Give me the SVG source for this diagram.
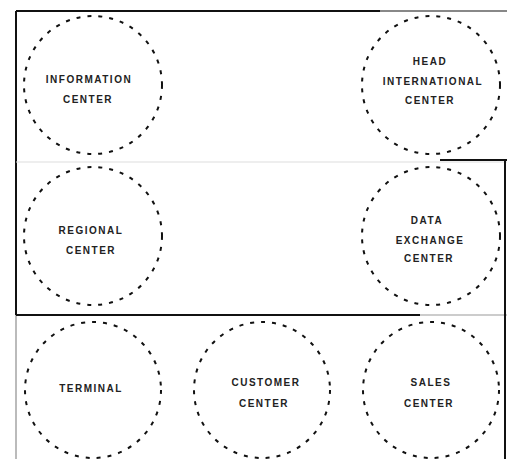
<svg xmlns="http://www.w3.org/2000/svg" width="507" height="459" viewBox="0 0 507 459">
<style>
.n circle{fill:none;stroke:#111;stroke-width:2;stroke-dasharray:4 7}
.n text{font-family:"Liberation Sans",Arial,sans-serif;font-size:10px;font-weight:bold;letter-spacing:1.5px;fill:#222;text-anchor:middle}
.f{stroke:#111;stroke-width:2;fill:none}
</style>
<rect width="507" height="459" fill="#fff"/>
<g id="frame">
<line class="f" x1="16" y1="11" x2="380" y2="11"/>
<line x1="380" y1="11" x2="507" y2="11" stroke="#888" stroke-width="2"/>
<line class="f" x1="16" y1="11" x2="16" y2="315"/>
<line x1="16" y1="315" x2="16" y2="459" stroke="#bbb" stroke-width="2"/>
<line x1="16" y1="162" x2="507" y2="162" stroke="#ddd" stroke-width="1"/>
<line class="f" x1="440" y1="160" x2="507" y2="160"/>
<line class="f" x1="16" y1="315" x2="420" y2="315"/>
<line x1="420" y1="315" x2="507" y2="315" stroke="#ccc" stroke-width="2"/>
<line class="f" x1="505" y1="160" x2="505" y2="459"/>
</g>
<g id="connectors"></g>
<g id="n1" class="n"><circle cx="93" cy="85" r="69"/><text x="89" y="83">INFORMATION</text><text x="88" y="103">CENTER</text></g>
<g id="n2" class="n"><circle cx="431" cy="85" r="69"/><text x="430" y="65">HEAD</text><text x="433" y="85">INTERNATIONAL</text><text x="430" y="104">CENTER</text></g>
<g id="n3" class="n"><circle cx="93" cy="236" r="69"/><text x="91" y="234">REGIONAL</text><text x="91" y="254">CENTER</text></g>
<g id="n4" class="n"><circle cx="431" cy="236" r="69"/><text x="427" y="224">DATA</text><text x="430" y="244">EXCHANGE</text><text x="429" y="262" fill="#999">CENTER</text></g>
<g id="n5" class="n"><circle cx="93" cy="390" r="68"/><text x="91" y="392">TERMINAL</text></g>
<g id="n6" class="n"><circle cx="262" cy="390" r="68"/><text x="266" y="386">CUSTOMER</text><text x="264" y="407">CENTER</text></g>
<g id="n7" class="n"><circle cx="431" cy="390" r="68"/><text x="431" y="386">SALES</text><text x="429" y="407">CENTER</text></g>
</svg>
